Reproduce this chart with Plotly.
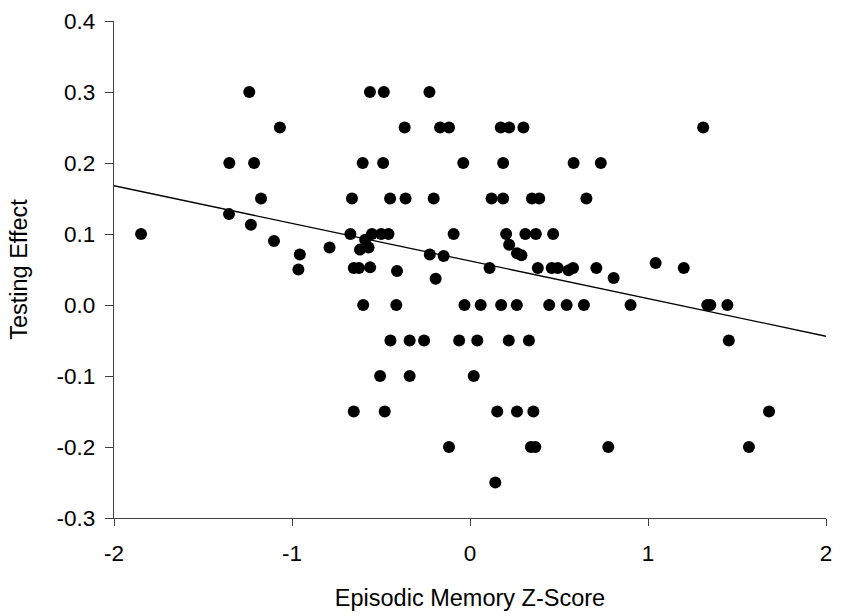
import plotly.graph_objects as go

# Episodic memory z-scores (x) and testing effect (y)
z_score = [
    -1.240, -0.562, -0.484, -0.228,
    -1.068, -0.367, -0.168, -0.118, 0.173, 0.220, 0.300, 1.310,
    -1.352, -1.213, -0.603, -0.488, -0.038, 0.186, 0.582, 0.735,
    -1.174, -0.663, -0.449, -0.362, -0.204, 0.121, 0.186, 0.348, 0.389, 0.654,
    -1.848, -0.672, -0.551, -0.499, -0.458, -0.092, 0.203, 0.311, 0.370, 0.467,
    -1.354, -1.231, -1.101, -0.956, -0.964, -0.789, -0.589, -0.618, -0.570,
    -0.653, -0.624, -0.561, -0.410, -0.226, -0.148, -0.193, 0.110, 0.220,
    0.264, 0.289, 0.381, 0.459, 0.493, 0.554, 0.579, 0.710, 0.807, 1.043, 1.201,
    -0.600, -0.414, -0.031, 0.060, 0.175, 0.263, 0.445, 0.543, 0.640, 0.902,
    1.333, 1.350, 1.446,
    -0.447, -0.339, -0.258, -0.061, 0.041, 0.218, 0.331, 1.454,
    -0.505, -0.339, 0.021,
    -0.653, -0.479, 0.153, 0.264, 0.356, 1.680,
    -0.118, 0.342, 0.367, 0.777, 1.567,
    0.142,
]
testing_effect = [
    0.30, 0.30, 0.30, 0.30,
    0.25, 0.25, 0.25, 0.25, 0.25, 0.25, 0.25, 0.25,
    0.20, 0.20, 0.20, 0.20, 0.20, 0.20, 0.20, 0.20,
    0.15, 0.15, 0.15, 0.15, 0.15, 0.15, 0.15, 0.15, 0.15, 0.15,
    0.10, 0.10, 0.10, 0.10, 0.10, 0.10, 0.10, 0.10, 0.10, 0.10,
    0.128, 0.113, 0.090, 0.071, 0.050, 0.081, 0.092, 0.078, 0.081,
    0.052, 0.052, 0.053, 0.048, 0.071, 0.069, 0.037, 0.052, 0.085,
    0.073, 0.070, 0.052, 0.052, 0.052, 0.049, 0.052, 0.052, 0.038, 0.059, 0.052,
    0.0, 0.0, 0.0, 0.0, 0.0, 0.0, 0.0, 0.0, 0.0, 0.0,
    0.0, 0.0, 0.0,
    -0.05, -0.05, -0.05, -0.05, -0.05, -0.05, -0.05, -0.05,
    -0.10, -0.10, -0.10,
    -0.15, -0.15, -0.15, -0.15, -0.15, -0.15,
    -0.20, -0.20, -0.20, -0.20, -0.20,
    -0.25,
]

# Linear trend line (as drawn in the reference)
fit_intercept = 0.062
fit_slope = -0.053
fit_x = [-2.0, 2.0]

x_ticks = [-2, -1, 0, 1, 2]
x_tick_labels = ["-2", "-1", "0", "1", "2"]
y_ticks = [0.4, 0.3, 0.2, 0.1, 0.0, -0.1, -0.2, -0.3]
y_tick_labels = ["0.4", "0.3", "0.2", "0.1", "0.0", "-0.1", "-0.2", "-0.3"]

fit_y = [fit_intercept + fit_slope * v for v in fit_x]

font_family = "Liberation Sans, Arial, sans-serif"
axis_color = "#404040"

fig = go.Figure()
fig.add_trace(go.Scatter(
    x=fit_x, y=fit_y, mode="lines",
    line=dict(color="black", width=1.3),
    hoverinfo="skip", showlegend=False,
))
fig.add_trace(go.Scatter(
    x=z_score, y=testing_effect, mode="markers",
    marker=dict(color="black", size=12, line=dict(width=0)),
    showlegend=False,
))

fig.update_layout(
    width=841, height=616,
    margin=dict(l=114, r=9, t=20, b=94),
    paper_bgcolor="white", plot_bgcolor="white",
    font=dict(family=font_family, size=22, color="black"),
    showlegend=False,
)
fig.update_xaxes(
    range=[-2, 2], tickvals=x_ticks, ticktext=x_tick_labels,
    showgrid=False, zeroline=False,
    showline=True, linecolor=axis_color, linewidth=1.3,
    ticks="outside", ticklen=7, tickcolor=axis_color, tickwidth=1.3,
    tickfont=dict(size=22.5), ticklabelstandoff=8,
    title=dict(text="Episodic Memory Z-Score", font=dict(size=23.5), standoff=24),
)
fig.update_yaxes(
    range=[-0.3, 0.4], tickvals=y_ticks, ticktext=y_tick_labels,
    showgrid=False, zeroline=False,
    showline=True, linecolor=axis_color, linewidth=1.3,
    ticks="outside", ticklen=8, tickcolor=axis_color, tickwidth=1.3,
    tickfont=dict(size=22.5), ticklabelstandoff=5,
    title=dict(text="Testing Effect", font=dict(size=23.5), standoff=22),
)

fig.write_html("out.html", config={"displayModeBar": False})

# remove the browser's default body margin so the figure sits at the page origin
with open("out.html", "r", encoding="utf-8") as fh:
    page = fh.read()
page = page.replace("<body>", '<body style="margin:0;padding:0;">', 1)
with open("out.html", "w", encoding="utf-8") as fh:
    fh.write(page)
